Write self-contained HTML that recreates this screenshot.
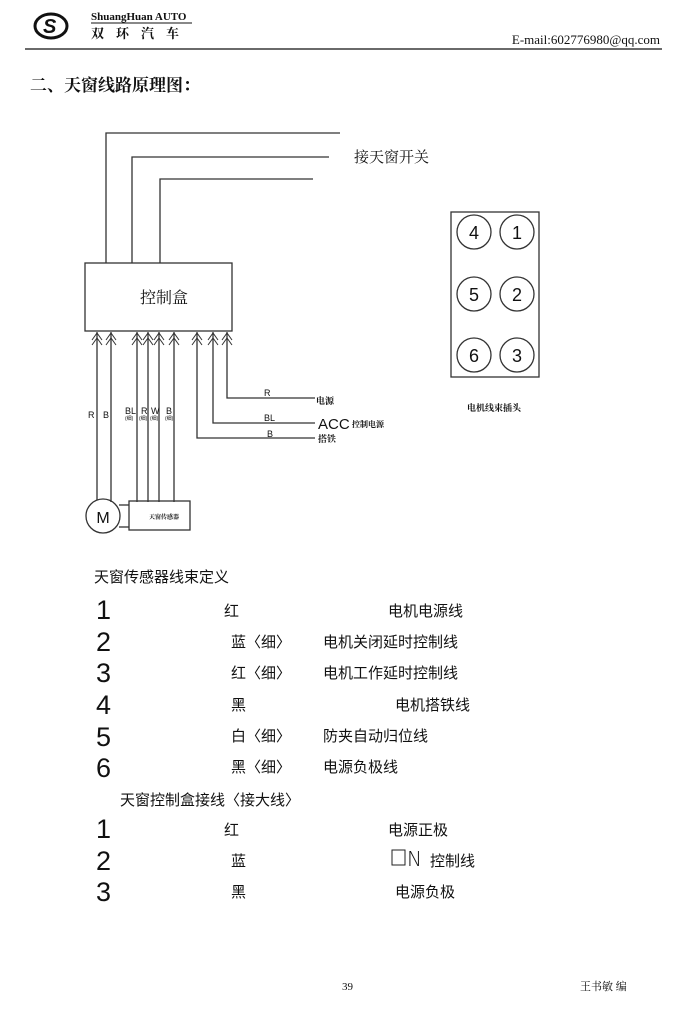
<!DOCTYPE html>
<html><head><meta charset="utf-8"><style>
body{margin:0;background:#fff;}
svg{display:block;}
text{font-family:"Liberation Sans","Noto Sans CJK SC",sans-serif;fill:#111;}
.cn{font-family:"Liberation Serif","Noto Serif CJK SC","Noto Sans CJK SC",serif;}
.num{font-family:"DejaVu Sans","Liberation Sans",sans-serif;font-weight:200;font-size:27px;}
</style></head><body>
<svg width="700" height="1023" viewBox="0 0 700 1023" xmlns="http://www.w3.org/2000/svg">
<!-- header -->
<ellipse cx="51" cy="26" rx="16" ry="12" fill="none" stroke="#111" stroke-width="3"/>
<text x="43" y="33" font-size="20" font-weight="bold" font-style="italic">S</text>
<text x="91" y="20" font-size="11" font-weight="bold" class="cn">ShuangHuan AUTO</text>
<line x1="91" y1="23" x2="192" y2="23" stroke="#111" stroke-width="1"/>
<text x="91" y="38" font-size="13" font-weight="bold" letter-spacing="12" class="cn">双环汽车</text>
<text x="660" y="44" font-size="13" text-anchor="end" class="cn">E-mail:602776980@qq.com</text>
<line x1="25" y1="49" x2="662" y2="49" stroke="#111" stroke-width="1.2"/>
<text x="30" y="91" font-size="17" font-weight="bold" class="cn">二、天窗线路原理图：</text>

<g stroke="#333" stroke-width="1.3" fill="none">
<polyline points="106,263 106,133 340,133"/>
<polyline points="132,263 132,157 329,157"/>
<polyline points="160,263 160,179 313,179"/>
<rect x="85" y="263" width="147" height="68"/>
<!-- vertical wires -->
<line x1="97" y1="332" x2="97" y2="500"/>
<line x1="111" y1="332" x2="111" y2="502"/>
<line x1="137" y1="332" x2="137" y2="502"/>
<line x1="148" y1="332" x2="148" y2="502"/>
<line x1="159" y1="332" x2="159" y2="502"/>
<line x1="174" y1="332" x2="174" y2="502"/>
<polyline points="227,332 227,398 315,398"/>
<polyline points="213,332 213,423 315,423"/>
<polyline points="197,332 197,438 315,438"/>
<!-- arrows -->
<g stroke-width="1">
<path d="M92,340 L97,333 L102,340 M92,345 L97,338 L102,345"/>
<path d="M106,340 L111,333 L116,340 M106,345 L111,338 L116,345"/>
<path d="M132,340 L137,333 L142,340 M132,345 L137,338 L142,345"/>
<path d="M143,340 L148,333 L153,340 M143,345 L148,338 L153,345"/>
<path d="M154,340 L159,333 L164,340 M154,345 L159,338 L164,345"/>
<path d="M169,340 L174,333 L179,340 M169,345 L174,338 L179,345"/>
<path d="M192,340 L197,333 L202,340 M192,345 L197,338 L202,345"/>
<path d="M208,340 L213,333 L218,340 M208,345 L213,338 L218,345"/>
<path d="M222,340 L227,333 L232,340 M222,345 L227,338 L232,345"/>
</g>
<circle cx="103" cy="516" r="17"/>
<rect x="129" y="501" width="61" height="29"/>
<line x1="119" y1="505" x2="129" y2="505"/>
<line x1="119" y1="527" x2="129" y2="527"/>
<!-- connector -->
<rect x="451" y="212" width="88" height="165"/>
<circle cx="474" cy="232" r="17"/><circle cx="517" cy="232" r="17"/>
<circle cx="474" cy="294" r="17"/><circle cx="517" cy="294" r="17"/>
<circle cx="474" cy="355" r="17"/><circle cx="517" cy="355" r="17"/>
</g>
<g font-size="18" text-anchor="middle" style="font-family:'DejaVu Sans',sans-serif;font-weight:200">
<text x="474" y="239">4</text><text x="517" y="239">1</text>
<text x="474" y="301">5</text><text x="517" y="301">2</text>
<text x="474" y="362">6</text><text x="517" y="362">3</text>
</g>
<text x="354" y="162" font-size="15" class="cn">接天窗开关</text>
<text x="140" y="303" font-size="16" class="cn">控制盒</text>
<text x="467" y="411" font-size="9" font-weight="bold" class="cn">电机线束插头</text>
<text x="103" y="523" font-size="16" text-anchor="middle" style="font-weight:300">M</text>
<text x="149" y="519" font-size="6" font-weight="bold" class="cn">天窗传感器</text>
<g font-size="9">
<text x="88" y="418">R</text><text x="103" y="418">B</text>
<text x="125" y="414">BL</text><text x="141" y="414">R</text><text x="151" y="414">W</text><text x="166" y="414">B</text>
<text x="125" y="420" font-size="5">(细)</text><text x="139" y="420" font-size="5">(细)</text><text x="150" y="420" font-size="5">(细)</text><text x="165" y="420" font-size="5">(细)</text>
<text x="264" y="396">R</text><text x="264" y="421">BL</text><text x="267" y="437">B</text>
</g>
<text x="316" y="404" font-size="9" font-weight="bold" class="cn">电源</text>
<text x="318" y="429" font-size="15" style="font-weight:300">ACC</text>
<text x="352" y="427" font-size="8" font-weight="bold" class="cn">控制电源</text>
<text x="318" y="442" font-size="9" font-weight="bold" class="cn">搭铁</text>

<!-- table -->
<g font-size="15" class="cn">
<text x="94" y="582">天窗传感器线束定义</text>
<text x="224" y="616">红</text><text x="388" y="616">电机电源线</text>
<text x="231" y="647">蓝〈细〉</text><text x="323" y="647">电机关闭延时控制线</text>
<text x="231" y="678">红〈细〉</text><text x="323" y="678">电机工作延时控制线</text>
<text x="231" y="710">黑</text><text x="395" y="710">电机搭铁线</text>
<text x="231" y="741">白〈细〉</text><text x="323" y="741">防夹自动归位线</text>
<text x="231" y="772">黑〈细〉</text><text x="323" y="772">电源负极线</text>
<text x="120" y="805">天窗控制盒接线〈接大线〉</text>
<text x="224" y="835">红</text><text x="388" y="835">电源正极</text>
<text x="231" y="866">蓝</text><text x="430" y="866">控制线</text>
<text x="231" y="897">黑</text><text x="395" y="897">电源负极</text>
</g>
<rect x="392" y="850" width="13" height="15" fill="none" stroke="#222" stroke-width="1"/>
<text x="407" y="866" font-size="20" style="font-family:'DejaVu Sans',sans-serif;font-weight:200">N</text>
<g class="num">
<text x="96" y="619">1</text><text x="96" y="651">2</text><text x="96" y="682">3</text>
<text x="96" y="714">4</text><text x="96" y="746">5</text><text x="96" y="777">6</text>
<text x="96" y="838">1</text><text x="96" y="870">2</text><text x="96" y="901">3</text>
</g>
<text x="342" y="990" font-size="11" class="cn">39</text>
<text x="580" y="990" font-size="11" class="cn">王书敏 编</text>
</svg>
</body></html>
